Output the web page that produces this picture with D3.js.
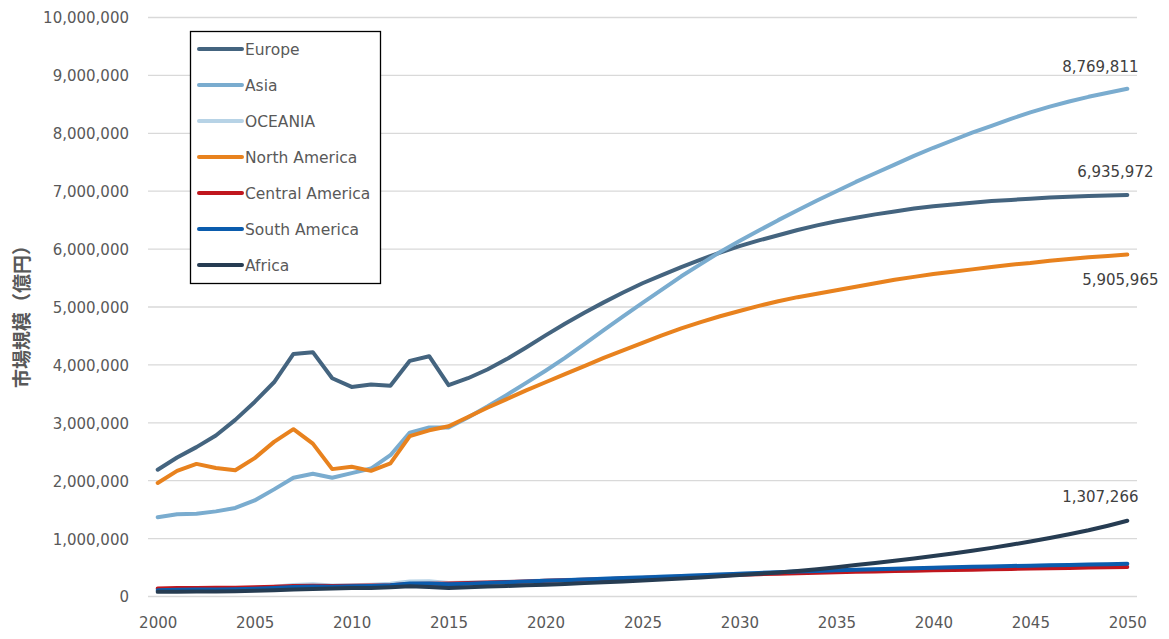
<!DOCTYPE html>
<meta charset="utf-8">
<style>
  body { margin: 0; background: #fff; }
  .grid line { stroke: #d9d9d9; stroke-width: 1.3px; }
  .tick-label { font-family: "DejaVu Sans", sans-serif; font-size: 15px; fill: #595959; }
  .line { fill: none; stroke-width: 4px; stroke-linejoin: round; stroke-linecap: round; }
  .legend text { font-family: "DejaVu Sans", sans-serif; font-size: 15.5px; fill: #595959; }
  .data-label { font-family: "DejaVu Sans", sans-serif; font-size: 15px; fill: #404040; }
</style>
<body>
<script src="https://cdnjs.cloudflare.com/ajax/libs/d3/7.8.5/d3.min.js"></script>
<script>
  // years 2000 .. 2050
  var years = d3.range(2000, 2051);
  var xTickYears = [2000, 2005, 2010, 2015, 2020, 2025, 2030, 2035, 2040, 2045, 2050];
  var yTicks = [0, 1000000, 2000000, 3000000, 4000000, 5000000, 6000000, 7000000, 8000000, 9000000, 10000000];

  var europe = [2190000, 2400000, 2580000, 2780000, 3050000, 3360000, 3700000, 4190000, 4220000, 3770000,
    3620000, 3660000, 3640000, 4070000, 4150000, 3650000, 3770000, 3920000, 4100000, 4300000,
    4510000, 4710000, 4900000, 5080000, 5250000, 5410000, 5550000, 5690000, 5820000, 5940000,
    6050000, 6150000, 6240000, 6330000, 6410000, 6480000, 6540000, 6600000, 6650000, 6700000,
    6740000, 6770000, 6800000, 6830000, 6850000, 6870000, 6890000, 6905000, 6915000, 6926000, 6935972];
  var asia = [1370000, 1420000, 1430000, 1470000, 1530000, 1660000, 1850000, 2050000, 2120000, 2050000,
    2130000, 2210000, 2440000, 2830000, 2920000, 2920000, 3090000, 3280000, 3480000, 3690000,
    3900000, 4120000, 4360000, 4600000, 4840000, 5070000, 5300000, 5530000, 5740000, 5950000,
    6140000, 6320000, 6500000, 6670000, 6840000, 7000000, 7160000, 7310000, 7460000, 7610000,
    7750000, 7880000, 8010000, 8130000, 8250000, 8360000, 8460000, 8550000, 8630000, 8700000, 8769811];
  var oceania = [120000, 125000, 128000, 132000, 136000, 148000, 170000, 200000, 210000, 190000,
    195000, 205000, 220000, 260000, 262000, 235000, 240000, 248000, 256000, 265000,
    275000, 286000, 297000, 308000, 320000, 332000, 344000, 356000, 368000, 380000,
    392000, 404000, 415000, 426000, 436000, 446000, 456000, 465000, 474000, 483000,
    491000, 499000, 506000, 513000, 520000, 527000, 533000, 539000, 545000, 551000, 557000];
  var northAmerica = [1960000, 2170000, 2290000, 2220000, 2180000, 2390000, 2670000, 2890000, 2640000, 2200000,
    2240000, 2170000, 2300000, 2770000, 2870000, 2940000, 3100000, 3260000, 3410000, 3560000,
    3700000, 3840000, 3980000, 4120000, 4250000, 4380000, 4510000, 4630000, 4740000, 4840000,
    4930000, 5020000, 5100000, 5170000, 5230000, 5290000, 5350000, 5410000, 5470000, 5520000,
    5570000, 5610000, 5650000, 5690000, 5730000, 5760000, 5800000, 5830000, 5860000, 5880000, 5905965];
  var centralAmerica = [140000, 145000, 148000, 150000, 152000, 158000, 168000, 180000, 185000, 180000,
    185000, 190000, 195000, 215000, 220000, 225000, 232000, 240000, 250000, 260000,
    270000, 280000, 290000, 300000, 310000, 320000, 331000, 342000, 353000, 364000,
    375000, 385000, 394000, 403000, 411000, 419000, 426000, 433000, 440000, 446000,
    452000, 458000, 464000, 470000, 476000, 482000, 488000, 494000, 500000, 505000, 510000];
  var southAmerica = [110000, 115000, 120000, 122000, 125000, 133000, 148000, 165000, 172000, 168000,
    175000, 182000, 195000, 225000, 225000, 210000, 222000, 234000, 246000, 258000,
    270000, 282000, 294000, 306000, 318000, 330000, 343000, 356000, 369000, 382000,
    395000, 407000, 419000, 430000, 441000, 452000, 462000, 472000, 481000, 490000,
    498000, 506000, 513000, 520000, 527000, 533000, 539000, 545000, 551000, 558000, 565000];
  var africa = [80000, 82000, 85000, 88000, 92000, 98000, 108000, 120000, 130000, 140000,
    145000, 148000, 158000, 175000, 165000, 145000, 160000, 172000, 182000, 193000,
    205000, 218000, 231000, 245000, 260000, 276000, 293000, 311000, 330000, 350000,
    370000, 392000, 416000, 442000, 470000, 505000, 545000, 580000, 618000, 658000,
    700000, 744000, 790000, 840000, 893000, 950000, 1010000, 1075000, 1144000, 1222000, 1307266];

  var seriesNames = ["Europe", "Asia", "OCEANIA", "North America", "Central America", "South America", "Africa"];
  var seriesColors = ["#44647f", "#7aaccf", "#b7d3e6", "#e8821e", "#c0161d", "#0b5cad", "#263c52"];
  var seriesValues = [europe, asia, oceania, northAmerica, centralAmerica, southAmerica, africa];

  var width = 1169, height = 639;

  var svg = d3.select("body").append("svg")
    .attr("width", width)
    .attr("height", height);

  // scales (Excel style category axis: points sit in the middle of each slot)
  var x = d3.scalePoint().domain(years).range([148, 1137]).padding(0.5);
  var y = d3.scaleLinear().domain([0, 10000000]).range([596.5, 17.5]);

  // gridlines
  svg.append("g").attr("class", "grid")
    .selectAll("line")
    .data(yTicks)
    .enter().append("line")
    .attr("x1", 148).attr("x2", 1137)
    .attr("y1", function(d) { return y(d); })
    .attr("y2", function(d) { return y(d); });

  // y axis labels
  var fmt = d3.format(",");
  var yAxis = svg.append("g")
    .attr("transform", "translate(129,0)")
    .call(d3.axisLeft(y).tickValues(yTicks).tickFormat(fmt).tickSize(0).tickPadding(0));
  yAxis.select(".domain").remove();
  yAxis.selectAll("text").attr("class", "tick-label").attr("dy", "0.36em").attr("fill", null);

  // x axis labels
  var xAxis = svg.append("g")
    .attr("transform", "translate(0,600)")
    .call(d3.axisBottom(x).tickValues(xTickYears).tickSize(0).tickPadding(17));
  xAxis.select(".domain").remove();
  xAxis.selectAll("text").attr("class", "tick-label").attr("fill", null);

  // y axis title
  svg.append("text")
    .attr("transform", "translate(29,312) rotate(-90)")
    .attr("text-anchor", "middle")
    .style("font-family", "'Noto Sans CJK JP', sans-serif")
    .style("font-size", "19px")
    .style("font-weight", "bold")
    .style("fill", "#595959")
    .text("市場規模（億円）");

  // lines
  var valueline = d3.line()
    .x(function(d, i) { return x(years[i]); })
    .y(function(d) { return y(d); });

  svg.selectAll(".line")
    .data(seriesValues)
    .enter().append("path")
    .attr("class", "line")
    .style("stroke", function(d, i) { return seriesColors[i]; })
    .attr("d", valueline);

  // data labels at the end
  var last = years.length - 1;
  var labels = [
    { s: 1, dx: -27, dy: -22 },
    { s: 0, dx: -12, dy: -23 },
    { s: 3, dx: -7, dy: 25 },
    { s: 6, dx: -27, dy: -24 }
  ];
  svg.selectAll(".data-label")
    .data(labels)
    .enter().append("text")
    .attr("class", "data-label")
    .attr("text-anchor", "middle")
    .attr("x", function(d) { return x(years[last]) + d.dx; })
    .attr("y", function(d) { return y(seriesValues[d.s][last]) + d.dy; })
    .attr("dy", "0.36em")
    .text(function(d) { return fmt(seriesValues[d.s][last]); });

  // legend
  var legend = svg.append("g").attr("class", "legend");
  legend.append("rect")
    .attr("x", 190.5).attr("y", 31.5)
    .attr("width", 190).attr("height", 252)
    .attr("fill", "#fff")
    .attr("stroke", "#000")
    .attr("stroke-width", 1.3);

  var item = legend.selectAll(".item")
    .data(seriesNames)
    .enter().append("g")
    .attr("class", "item")
    .attr("transform", function(d, i) { return "translate(0," + (49 + i * 36) + ")"; });
  item.append("line")
    .attr("x1", 199).attr("x2", 242)
    .attr("y1", 0).attr("y2", 0)
    .attr("stroke", function(d, i) { return seriesColors[i]; })
    .attr("stroke-width", 4)
    .attr("stroke-linecap", "round");
  item.append("text")
    .attr("x", 245)
    .attr("dy", "0.36em")
    .text(function(d) { return d; });
</script>
</body>
